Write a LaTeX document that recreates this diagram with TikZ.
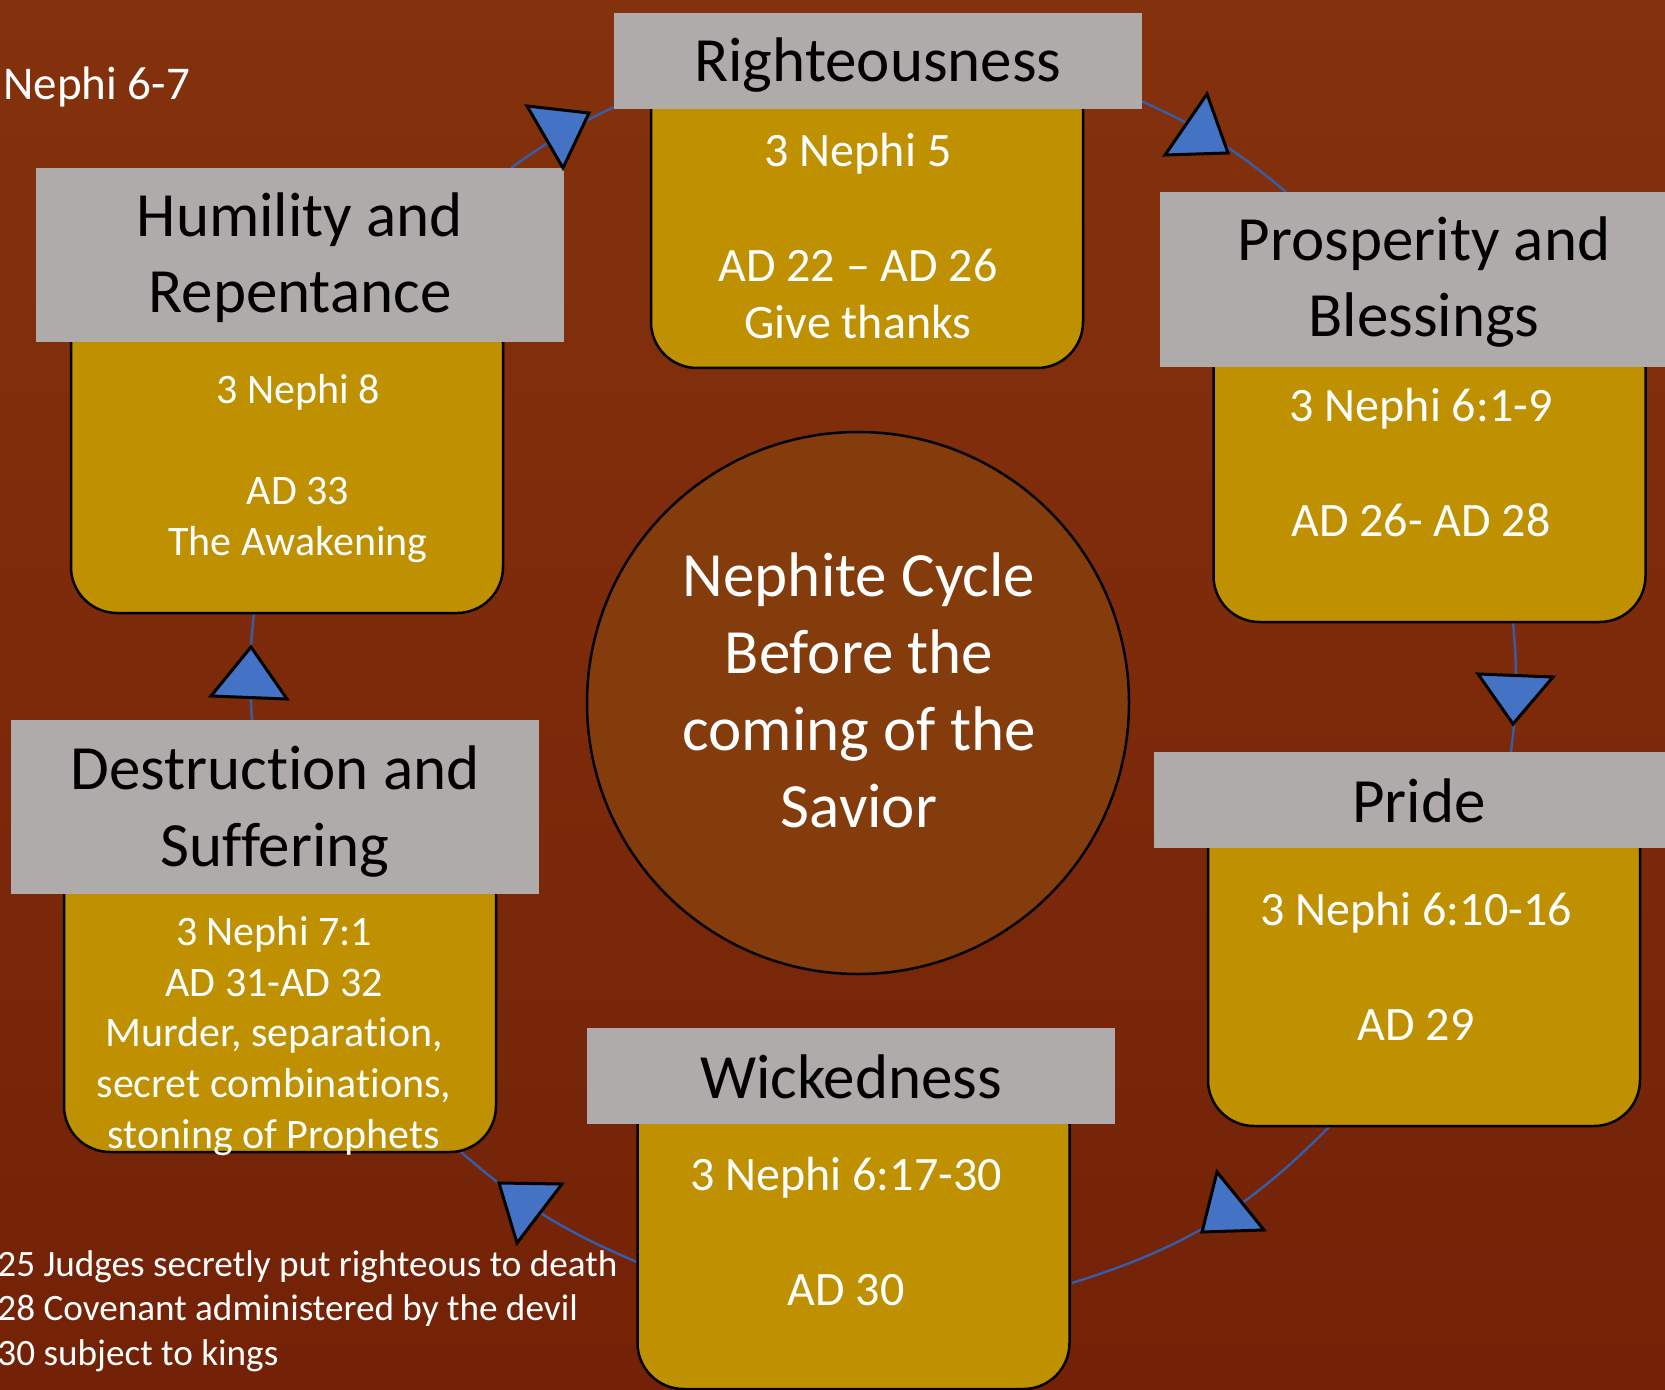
\documentclass[tikz,border=0pt]{standalone}
\usepackage{fontspec}
\setmainfont{Carlito}[Ligatures={TeX,NoCommon}]
\definecolor{bgtop}{RGB}{132,50,13}
\definecolor{bgbot}{RGB}{116,34,7}
\definecolor{circfill}{RGB}{132,60,12}
\definecolor{gold}{RGB}{191,144,0}
\definecolor{hdrgrey}{RGB}{175,171,171}
\definecolor{triblue}{RGB}{68,114,196}
\definecolor{lineblue}{RGB}{52,94,170}
\tikzset{
  hdrbox/.style={rectangle, fill=hdrgrey, draw=none, inner sep=0pt, minimum width=264pt},
  goldbox/.style={rectangle, rounded corners=23pt, fill=gold, draw=black, line width=1.25pt, inner sep=0pt, minimum width=216pt},
  hdrtext/.style={anchor=base, align=center, inner sep=0pt, text=black, font=\fontsize{31.5}{38.25}\selectfont},
  boxtext/.style={anchor=base, align=center, inner sep=0pt, text=white, font=\fontsize{24}{28.75}\selectfont},
  smalltext/.style={anchor=base, align=center, inner sep=0pt, text=white, font=\fontsize{21}{25.3}\selectfont},
  conn/.style={draw=lineblue, line width=1.2pt},
  tri/.style={fill=triblue, draw=black, line width=1.5pt, line join=miter},
}
\begin{document}
\begin{tikzpicture}[x=0.5pt, y=-0.5pt]
\useasboundingbox (0,0) rectangle (1665,1390);
\shade[top color=bgtop, bottom color=bgbot] (0,0) rectangle (1665,1390);

% connector end points
\coordinate (c1s) at (511,168);  \coordinate (c1e) at (614,107);
\coordinate (c2s) at (1141,101); \coordinate (c2e) at (1286,192);
\coordinate (c3s) at (1513,622); \coordinate (c3e) at (1511,752);
\coordinate (c4s) at (1330,1126);\coordinate (c4e) at (1072,1283);
\coordinate (c5s) at (637,1262); \coordinate (c5e) at (461,1152);
\coordinate (c6s) at (252,720);  \coordinate (c6e) at (254,613);

\draw[conn] (c1s) to[bend left=5] (c1e);
\draw[conn] (c2s) to[bend left=8] (c2e);
\draw[conn] (c3s) to[bend left=6] (c3e);
\draw[conn] (c4s) to[bend left=14] (c4e);
\draw[conn] (c5s) to[bend left=9] (c5e);
\draw[conn] (c6s) to[bend left=5] (c6e);

% centre circle
\node[circle, fill=circfill, draw=black, line width=1.25pt, minimum size=271pt, inner sep=0pt] (centre) at (858,703) {};
\node[anchor=base, align=center, inner sep=0pt, text=white, font=\fontsize{31.5}{38.35}\selectfont] (centretext) at (859,827) {Nephite Cycle\\Before the\\coming of the\\Savior};

% gold boxes
\node[goldbox, minimum height=152pt] (rightB) at (867,216) {};
\node[goldbox, minimum height=150pt] (prosB) at (1429.5,472) {};
\node[goldbox, minimum height=161.5pt] (prideB) at (1424,964.5) {};
\node[goldbox, minimum height=155pt] (wickB) at (853.5,1234) {};
\node[goldbox, minimum height=151.5pt] (destB) at (280,1000.5) {};
\node[goldbox, minimum height=158pt] (humB) at (287,455) {};

% grey headers
\node[hdrbox, minimum height=48pt] (rightH) at (878,61) {};
\node[hdrbox, minimum height=87.5pt] (prosH) at (1424,279.5) {};
\node[hdrbox, minimum height=48pt] (prideH) at (1418,800) {};
\node[hdrbox, minimum height=48pt] (wickH) at (850.5,1076) {};
\node[hdrbox, minimum height=87pt] (destH) at (275,807) {};
\node[hdrbox, minimum height=87pt] (humH) at (299.5,255) {};

% header texts (anchor = baseline of last line)
\node[hdrtext] (rightHt) at (878,82) {Righteousness};
\node[hdrtext] (prosHt) at (1424,337) {Prosperity and\\Blessings};
\node[hdrtext] (prideHt) at (1419,822) {Pride};
\node[hdrtext] (wickHt) at (851,1098) {Wickedness};
\node[hdrtext] (destHt) at (275,866) {Destruction and\\Suffering};
\node[hdrtext] (humHt) at (300,313) {Humility and\\Repentance};

% box texts (anchor = baseline of last line)
\node[boxtext] (rightBt) at (858,339) {3 Nephi 5\\\mbox{}\\AD 22 – AD 26\\Give thanks};
\node[boxtext] (prosBt) at (1421,536) {3 Nephi 6:1-9\\\mbox{}\\AD 26- AD 28};
\node[boxtext] (prideBt) at (1416,1040) {3 Nephi 6:10-16\\\mbox{}\\AD 29};
\node[boxtext] (wickBt) at (846,1305) {3 Nephi 6:17-30\\\mbox{}\\AD 30};
\node[smalltext] (destBt) at (274,1148) {3 Nephi 7:1\\AD 31-AD 32\\Murder, separation,\\secret combinations,\\stoning of Prophets};
\node[smalltext] (humBt) at (298,555) {3 Nephi 8\\\mbox{}\\AD 33\\The Awakening};

% triangles
\draw[tri] (527,106) -- (589,113) -- (563,168) -- cycle;
\draw[tri] (1207,94) -- (1165,155) -- (1228,153) -- cycle;
\draw[tri] (1478,674) -- (1553,677) -- (1513,724) -- cycle;
\draw[tri] (1217,1172) -- (1202,1232) -- (1264,1230) -- cycle;
\draw[tri] (499,1183) -- (562,1184) -- (517,1243) -- cycle;
\draw[tri] (251,647) -- (211,696) -- (287,699) -- cycle;

% free texts
\node[anchor=base west, inner sep=0pt, text=white, font=\fontsize{23.5}{28}\selectfont] (toplabel) at (3,100) {Nephi 6-7};
\node[anchor=base west, align=left, inner sep=0pt, text=white, font=\fontsize{18.6}{22.25}\selectfont] (notes) at (-3,1365) {25 Judges secretly put righteous to death\\28 Covenant administered by the devil\\30 subject to kings};
\end{tikzpicture}
\end{document}
